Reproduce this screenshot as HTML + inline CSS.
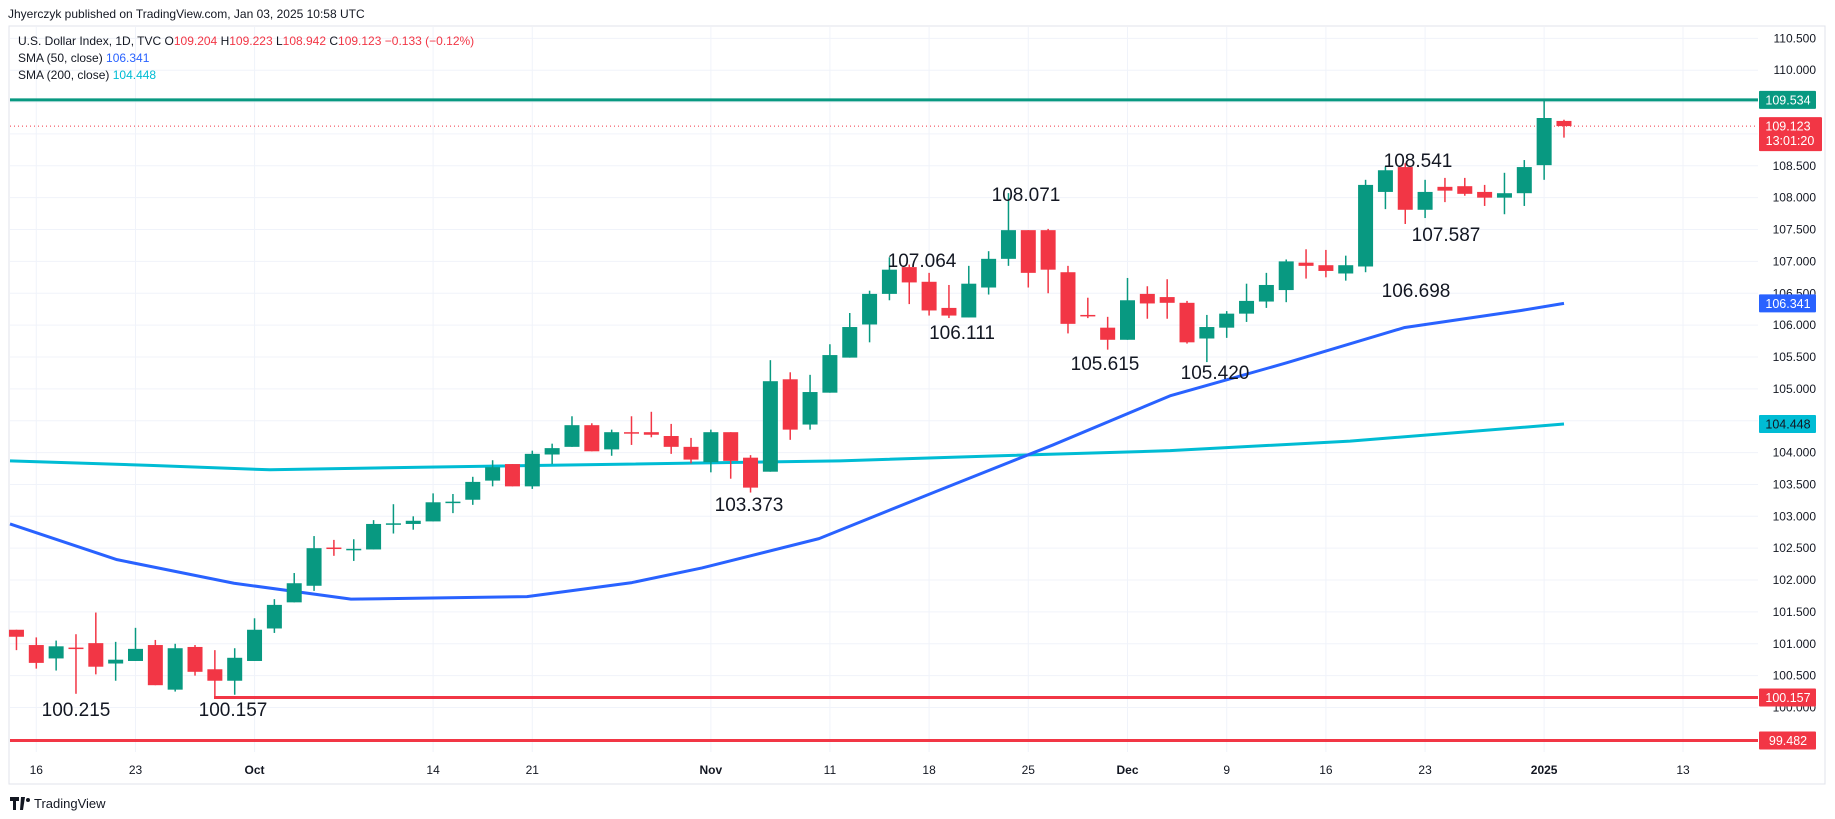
<!DOCTYPE html>
<html><head><meta charset="utf-8"><style>
html,body{margin:0;padding:0;background:#fff;}
body{width:1835px;height:819px;overflow:hidden;position:relative;font-family:"Liberation Sans",Arial,sans-serif;}
svg{position:absolute;left:0;top:0;}
</style></head><body>
<svg id="c" width="1835" height="819" xmlns="http://www.w3.org/2000/svg"></svg>
<script>
const Y=p=>70.2+(110-p)*63.73;
const X=i=>36.3+i*19.84;
const G='#089981',R='#f23645';
const d=[
[-1,101.22,101.22,100.90,101.11],[0,100.98,101.10,100.61,100.70],[1,100.77,101.05,100.58,100.96],[2,100.94,101.15,100.215,100.93],
[3,101.01,101.49,100.52,100.64],[4,100.69,101.03,100.42,100.75],[5,100.73,101.25,100.73,100.92],[6,100.98,101.06,100.35,100.35],
[7,100.28,101.0,100.25,100.93],[8,100.95,100.98,100.50,100.56],[9,100.60,100.90,100.157,100.42],[10,100.42,100.93,100.20,100.78],
[11,100.73,101.40,100.73,101.22],[12,101.24,101.70,101.17,101.61],[13,101.65,102.11,101.65,101.95],[14,101.91,102.69,101.83,102.50],
[15,102.51,102.63,102.38,102.50],[16,102.48,102.64,102.30,102.49],[17,102.48,102.94,102.48,102.88],[18,102.88,103.19,102.73,102.89],
[19,102.88,103.0,102.79,102.93],[20,102.92,103.36,102.92,103.22],[21,103.22,103.35,103.05,103.23],[22,103.26,103.62,103.18,103.54],
[23,103.56,103.88,103.47,103.77],[24,103.82,103.82,103.47,103.47],[25,103.47,104.03,103.43,103.98],[26,103.97,104.14,103.82,104.07],
[27,104.09,104.57,104.09,104.43],[28,104.43,104.46,104.02,104.02],[29,104.05,104.36,103.95,104.32],[30,104.32,104.57,104.12,104.31],
[31,104.32,104.64,104.24,104.28],[32,104.26,104.45,103.98,104.09],[33,104.09,104.23,103.83,103.89],[34,103.85,104.36,103.69,104.32],
[35,104.32,104.32,103.59,103.87],[36,103.92,103.96,103.373,103.45],[37,103.70,105.45,103.70,105.12],[38,105.15,105.26,104.20,104.36],
[39,104.44,105.22,104.36,104.95],[40,104.94,105.70,104.94,105.53],[41,105.49,106.19,105.49,105.97],[42,106.01,106.54,105.73,106.49],
[43,106.49,107.064,106.39,106.87],[44,106.91,106.95,106.33,106.67],[45,106.68,106.82,106.15,106.23],[46,106.27,106.63,106.111,106.15],
[47,106.12,106.93,106.12,106.65],[48,106.59,107.16,106.48,107.04],[49,107.04,108.071,106.93,107.49],[50,107.49,107.49,106.59,106.82],
[51,107.49,107.51,106.50,106.87],[52,106.83,106.93,105.87,106.02],[53,106.16,106.43,106.11,106.15],[54,105.96,106.13,105.615,105.77],
[55,105.77,106.74,105.77,106.39],[56,106.49,106.61,106.10,106.34],[57,106.44,106.72,106.10,106.35],[58,106.35,106.38,105.71,105.73],
[59,105.79,106.16,105.42,105.97],[60,105.96,106.22,105.80,106.18],[61,106.18,106.65,106.05,106.38],[62,106.37,106.82,106.27,106.63],
[63,106.55,107.03,106.36,107.00],[64,106.98,107.19,106.73,106.93],[65,106.94,107.18,106.75,106.85],[66,106.81,107.09,106.698,106.94],
[67,106.92,108.28,106.83,108.20],[68,108.09,108.49,107.82,108.43],[69,108.48,108.541,107.587,107.81],[70,107.81,108.28,107.68,108.09],
[71,108.17,108.31,107.93,108.11],[72,108.18,108.31,108.03,108.06],[73,108.09,108.20,107.87,108.00],[74,108.00,108.39,107.74,108.07],
[75,108.07,108.59,107.87,108.48],[76,108.51,109.534,108.28,109.25],[77,109.204,109.223,108.942,109.123]];
let s='';
// grid
s+='<rect x="9" y="26" width="1816" height="758" fill="#fff" stroke="#e0e3eb" stroke-width="1"/>';
for(let p=100;p<=110.5;p+=0.5){const y=Y(p);s+=`<line x1="10" x2="1758" y1="${y}" y2="${y}" stroke="#f0f3fa" stroke-width="1"/>`;}
const vt=[[0,'16'],[5,'23'],[11,'Oct',1],[20,'14'],[25,'21'],[34,'Nov',1],[40,'11'],[45,'18'],[50,'25'],[55,'Dec',1],[60,'9'],[65,'16'],[70,'23'],[76,'2025',1],[83,'13']];
vt.forEach(v=>{const x=X(v[0]);s+=`<line x1="${x}" x2="${x}" y1="27" y2="752" stroke="#f0f3fa" stroke-width="1"/>`;
s+=`<text x="${x}" y="774" font-size="12" text-anchor="middle" fill="#131722" ${v[2]?'font-weight="bold"':''}>${v[1]}</text>`;});
// SMA lines
function line(pts,col){return `<polyline fill="none" stroke="${col}" stroke-width="3" stroke-linejoin="round" points="${pts.map(a=>a[0]+','+Y(a[1])).join(' ')}"/>`;}
s+=line([[10,103.87],[150,103.80],[270,103.73],[420,103.77],[840,103.87],[1000,103.95],[1170,104.03],[1350,104.18],[1564,104.448]],'#00bcd4');
s+=line([[10,102.88],[117,102.32],[234,101.95],[351,101.70],[527,101.74],[632,101.96],[702,102.19],[819,102.65],[936,103.39],[1053,104.12],[1170,104.89],[1287,105.41],[1404,105.96],[1521,106.23],[1564,106.341]],'#2962ff');
// horizontal lines
s+=`<line x1="10" x2="1758" y1="${Y(109.534)}" y2="${Y(109.534)}" stroke="${G}" stroke-width="3"/>`;
s+=`<line x1="214" x2="1758" y1="${Y(100.157)}" y2="${Y(100.157)}" stroke="${R}" stroke-width="3"/>`;
s+=`<line x1="10" x2="1758" y1="${Y(99.482)}" y2="${Y(99.482)}" stroke="${R}" stroke-width="3"/>`;
s+=`<line x1="10" x2="1758" y1="${Y(109.123)}" y2="${Y(109.123)}" stroke="${R}" stroke-width="1" stroke-dasharray="1,3"/>`;
// candles
d.forEach(c=>{const[i,o,h,l,cl]=c;const x=X(i);const col=cl>=o?G:R;
s+=`<line x1="${x}" x2="${x}" y1="${Y(h)}" y2="${Y(l)}" stroke="${col}" stroke-width="1.5"/>`;
const t=Y(Math.max(o,cl)),b=Y(Math.min(o,cl));s+=`<rect x="${x-7.5}" y="${t}" width="15" height="${Math.max(b-t,1.5)}" fill="${col}"/>`;});
// annotations
[['100.215',76,716],['100.157',233,716],['103.373',749,511],['107.064',922,267],['106.111',962,339],['108.071',1026,201],['105.615',1105,370],['105.420',1215,379],['106.698',1416,297],['108.541',1418,167],['107.587',1446,241]]
.forEach(a=>s+=`<text x="${a[1]}" y="${a[2]}" font-size="19" text-anchor="middle" fill="#131722">${a[0]}</text>`);
// price axis
for(let p=100;p<=110.5;p+=0.5){s+=`<text x="1816" y="${Y(p)+4}" font-size="12" text-anchor="end" fill="#131722">${p.toFixed(3)}</text>`;}
function tag(p,txt,bg,fg,h){const y=Y(p);s+=`<rect x="1759" y="${y-9}" width="${h?63:57}" height="${h||18}" fill="${bg}" rx="1"/><text x="1788" y="${y+4.5}" font-size="12.5" text-anchor="middle" fill="${fg}">${txt}</text>`;}
tag(109.534,'109.534',G,'#fff');
tag(109.123,'109.123',R,'#fff',34);
s+=`<text x="1790" y="${Y(109.123)+19}" font-size="12.5" text-anchor="middle" fill="#fff">13:01:20</text>`;
tag(106.341,'106.341','#2962ff','#fff');
tag(104.448,'104.448','#00bcd4','#131722');
tag(100.157,'100.157',R,'#fff');
tag(99.482,'99.482',R,'#fff');
// header
s+=`<text x="8" y="18" font-size="12" fill="#131722">Jhyerczyk published on TradingView.com, Jan 03, 2025 10:58 UTC</text>`;
s+=`<text x="18" y="45" font-size="12" fill="#131722">U.S. Dollar Index, 1D, TVC  <tspan>O</tspan><tspan fill="${R}">109.204</tspan> H<tspan fill="${R}">109.223</tspan> L<tspan fill="${R}">108.942</tspan> C<tspan fill="${R}">109.123</tspan> <tspan fill="${R}">−0.133 (−0.12%)</tspan></text>`;
s+=`<text x="18" y="62" font-size="12" fill="#131722">SMA (50, close) <tspan fill="#2962ff">106.341</tspan></text>`;
s+=`<text x="18" y="79" font-size="12" fill="#131722">SMA (200, close) <tspan fill="#00bcd4">104.448</tspan></text>`;
// logo
s+=`<path d="M10 797h9v4h-3v9h-3v-9h-3z M21 797h4l-2 13h-3z" fill="#131722"/><circle cx="28" cy="800" r="2" fill="#131722"/>`;
s+=`<text x="34" y="808" font-size="13" fill="#131722">TradingView</text>`;
document.getElementById('c').innerHTML=s;
</script>
</body></html>
